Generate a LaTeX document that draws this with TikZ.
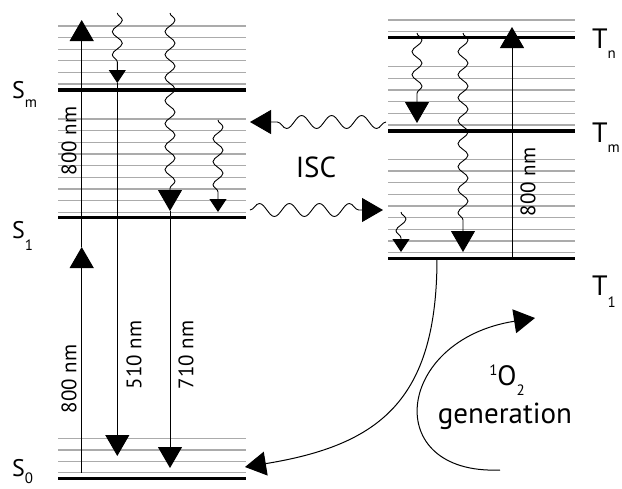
\documentclass[tikz,border=0pt]{standalone}
\usepackage{fontspec}
\setmainfont{PT Sans}
\usetikzlibrary{arrows.meta, decorations.pathmorphing}

\newcommand{\stlabel}[3][9pt]{#2\raisebox{-#1}{\fontsize{15}{15}\selectfont #3}}

\tikzset{
  level/.style={line width=3.6pt},
  sublevel/.style={line width=1.1pt, black!33},
  ray/.style={line width=1pt},
  big/.style={-{Triangle[length=21pt,width=24pt]}},
  small/.style={-{Triangle[length=13pt,width=17pt]}},
  wavy/.style={line width=0.9pt, decorate, decoration={snake, amplitude=5pt, segment length=23pt, post length=#1}},
  wavy/.default=22pt,
  hwavy/.style={line width=0.9pt, decorate, decoration={snake, amplitude=6.5pt, segment length=30pt, post length=22pt}},
  nm/.style={rotate=90, inner sep=0pt, font=\fontsize{21}{21}\selectfont},
  state/.style={anchor=base west, inner sep=0pt, font=\fontsize{24}{24}\selectfont},
  tstate/.style={anchor=base west, inner sep=0pt, font=\fontsize{28}{28}\selectfont},
}

\begin{document}
\begin{tikzpicture}[x=1pt, y=-1pt]
\useasboundingbox (0,0) rectangle (622,488);

% singlet manifold
\foreach \y in {26,37.6,49.2,60.8,72.4,84} \draw[sublevel] (58,\y) -- (246,\y);
\foreach \y in {119,130.7,142.3,154,165.7,177.3,189,200.7,212.3} \draw[sublevel] (58,\y) -- (246,\y);
\foreach \y in {438.3,450,461.5,472.7} \draw[sublevel] (58,\y) -- (246,\y);
\draw[level] (58,90) -- (246,90);
\draw[level] (58,217.3) -- (246,217.3);
\draw[level] (58,478.5) -- (246,478.5);

% triplet manifold
\foreach \y in {20,31.7} \draw[sublevel] (388,\y) -- (575,\y);
\foreach \y in {66.7,78.3,90,101.7,113.3,125} \draw[sublevel] (388,\y) -- (575,\y);
\foreach \y in {159.3,171,182.7,194.3,206,217.7,229.3,241,252.7} \draw[sublevel] (388,\y) -- (575,\y);
\draw[level] (388,37.3) -- (575,37.3);
\draw[level] (388,130.7) -- (575,130.7);
\draw[level] (388,258.3) -- (575,258.3);

% state labels
\node[state] (lSm) at (12,98) {\stlabel{S}{m}};
\node[state] (lS1) at (12,238) {\stlabel[12pt]{S}{1}};
\node[state] (lS0) at (12,476) {\stlabel[7pt]{S}{0}};
\node[tstate] (lTn) at (592,48) {\stlabel[10pt]{T}{n}};
\node[tstate] (lTm) at (592,142) {\stlabel[10pt]{T}{m}};
\node[tstate] (lT1) at (592,295) {\stlabel[12pt]{T}{1}};

% anchor points of the transitions
\coordinate (pumpS0) at (81.7,472.7);
\coordinate (pumpS1) at (81.7,247);
\coordinate (pumpSm) at (81.7,20);
\coordinate (f510top) at (117.3,13);
\coordinate (f510mid) at (117.3,83);
\coordinate (f510end) at (117.3,456);
\coordinate (f710top) at (170,13);
\coordinate (f710mid) at (170,211);
\coordinate (f710end) at (170,468);
\coordinate (icS) at (218,120);
\coordinate (icSend) at (218,212);
\coordinate (icTa) at (417,33);
\coordinate (icTaend) at (417,123);
\coordinate (icTb) at (463,33);
\coordinate (icTbend) at (463,252);
\coordinate (icTc) at (401,212);
\coordinate (icTcend) at (401,252);
\coordinate (pumpT1) at (512,258);
\coordinate (pumpTn) at (512,27);
\coordinate (iscR) at (386,122);
\coordinate (iscL) at (250,122);
\coordinate (iscS) at (250,210);
\coordinate (iscT) at (383,210);
\coordinate (t1out) at (437,258);
\coordinate (s0in) at (245,467);
\coordinate (oxstart) at (500,470);
\coordinate (oxend) at (535,318);

% singlet side
\draw[ray,big] (pumpS0) -- (pumpS1);
\draw[ray,big] (pumpS1) -- (pumpSm);
\draw[small,wavy=13pt] (f510top) -- (f510mid);
\draw[ray,big] (f510mid) -- (f510end);
\draw[big,wavy] (f710top) -- (f710mid);
\draw[ray,big] (f710mid) -- (f710end);
\draw[small,wavy=13pt] (icS) -- (icSend);

\node[nm] (n800a) at (69,141) {800 nm};
\node[nm] (n800b) at (69,379) {800 nm};
\node[nm] (n510) at (134,355) {510 nm};
\node[nm] (n710) at (186,355) {710 nm};

% triplet side
\draw[big,wavy] (icTa) -- (icTaend);
\draw[big,wavy] (icTb) -- (icTbend);
\draw[small,wavy=13pt] (icTc) -- (icTcend);
\draw[ray,big] (pumpT1) -- (pumpTn);
\node[nm] (n800c) at (528,182) {800 nm};

% intersystem crossing
\draw[big,hwavy] (iscR) -- (iscL);
\draw[big,hwavy] (iscS) -- (iscT);
\node[font=\fontsize{29}{29}\selectfont] (isc) at (316,167) {ISC};

% energy transfer to oxygen
\draw[ray,big] (t1out) .. controls (437,400) and (380,445) .. (s0in);
\draw[ray,big] (oxstart) .. controls (380,475) and (395,340) .. (oxend);
\node[anchor=base, inner sep=0pt, font=\fontsize{28}{28}\selectfont] (ox) at (507,385)
  {\raisebox{10pt}{\fontsize{15}{15}\selectfont 1}O\raisebox{-10pt}{\fontsize{15}{15}\selectfont 2}};
\node[anchor=base, inner sep=0pt, font=\fontsize{29}{29}\selectfont] (gen) at (505,423) {generation};

\end{tikzpicture}
\end{document}
